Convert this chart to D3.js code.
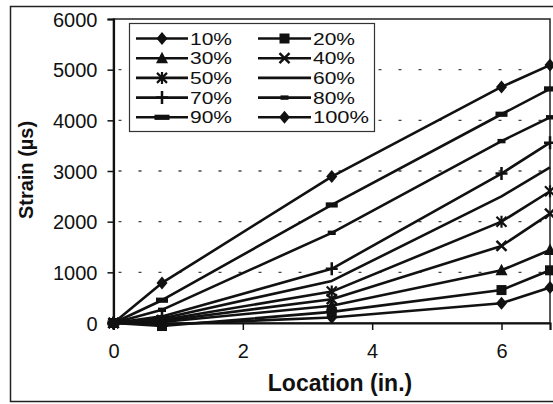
<!DOCTYPE html>
<html>
<head>
<meta charset="utf-8">
<script src="https://cdn.jsdelivr.net/npm/d3@7"></script>
<style>
  html, body { margin: 0; padding: 0; background: #fff; }
  svg { display: block; font-family: "Liberation Sans", Arial, sans-serif; }
</style>
</head>
<body>
<svg id="chart" width="553" height="404"></svg>
<script>
// ---- data ----
const locations = [0, 0.75, 3.375, 6, 6.75];
const seriesNames = ["10%", "20%", "30%", "40%", "50%", "60%", "70%", "80%", "90%", "100%"];
const strain10  = [0, -30, 110, 390, 700];
const strain20  = [0, -60, 220, 650, 1040];
const strain30  = [0, 20, 340, 1040, 1440];
const strain40  = [0, 40, 470, 1520, 2160];
const strain50  = [0, 60, 620, 2000, 2600];
const strain60  = [0, 90, 830, 2500, 3070];
const strain70  = [0, 130, 1070, 2950, 3560];
const strain80  = [0, 260, 1780, 3590, 4060];
const strain90  = [0, 450, 2330, 4120, 4620];
const strain100 = [0, 790, 2890, 4660, 5090];
const seriesValues = [strain10, strain20, strain30, strain40, strain50,
                      strain60, strain70, strain80, strain90, strain100];
const markerTypes = ["diamond", "square", "triangle", "x", "star", "none", "plus", "smalldash", "dash", "diamond"];
const xTicks = [0, 2, 4, 6];
const yTicks = [0, 1000, 2000, 3000, 4000, 5000, 6000];
const xTitle = "Location (in.)";
const yTitle = "Strain (µs)";

// ---- layout ----
const svg = d3.select("#chart");
const plot = { left: 113.5, right: 550, top: 19, bottom: 323 };
const x = d3.scaleLinear().domain([0, 6.75]).range([plot.left, plot.right]);
const y = d3.scaleLinear().domain([0, 6000]).range([plot.bottom, plot.top]);

// outer frame
svg.append("rect").attr("x", 10.5).attr("y", 6.5).attr("width", 560).attr("height", 395)
  .attr("fill", "none").attr("stroke", "#222").attr("stroke-width", 1.5);

// plot area border
svg.append("rect").attr("x", plot.left).attr("y", plot.top)
  .attr("width", plot.right - plot.left).attr("height", plot.bottom - plot.top)
  .attr("fill", "none").attr("stroke", "#222").attr("stroke-width", 1.5);

// gridlines
svg.append("g").selectAll("line").data(yTicks.filter(d => d > 0 && d < 6000)).join("line")
  .attr("x1", plot.left).attr("x2", plot.right)
  .attr("y1", d => y(d)).attr("y2", d => y(d))
  .attr("stroke", "#444").attr("stroke-width", 1.3).attr("stroke-dasharray", "3,17")
  .attr("stroke-dashoffset", -5);

// axes
const yAxis = svg.append("g").attr("transform", `translate(${plot.left},0)`)
  .call(d3.axisLeft(y).tickValues(yTicks).tickSize(6).tickPadding(10).tickFormat(d3.format("d")));
const xAxis = svg.append("g").attr("transform", `translate(0,${plot.bottom})`)
  .call(d3.axisBottom(x).tickValues(xTicks).tickSize(7).tickPadding(14).tickFormat(d3.format("d")));
[yAxis, xAxis].forEach(g => {
  g.select(".domain").attr("stroke", "#111").attr("stroke-width", 2.2);
  g.selectAll(".tick line").attr("stroke", "#111").attr("stroke-width", 1.5);
  g.selectAll(".tick text").attr("fill", "#111").attr("font-size", 20)
    .attr("font-family", "Liberation Sans, Arial, sans-serif");
});
yAxis.selectAll(".tick text").attr("dy", "0.36em");

// axis titles
svg.append("text").attr("x", 340).attr("y", 391).attr("text-anchor", "middle")
  .attr("font-size", 23).attr("font-weight", "bold").attr("fill", "#111").text(xTitle);
svg.append("text").attr("transform", "translate(33,170) rotate(-90)").attr("text-anchor", "middle")
  .attr("font-size", 20).attr("font-weight", "bold").attr("fill", "#111").text(yTitle);

// marker drawing
function drawMarker(g, type, cx, cy, legend) {
  const k = g.append("g").attr("transform", `translate(${cx},${cy})`);
  switch (type) {
    case "diamond":
      k.append("path").attr("d", "M0,-6.5L5.5,0L0,6.5L-5.5,0Z").attr("fill", "#111"); break;
    case "square":
      k.append("rect").attr("x", -5).attr("y", -5).attr("width", 10).attr("height", 10).attr("fill", "#111"); break;
    case "triangle":
      k.append("path").attr("d", "M0,-6.5L6,5L-6,5Z").attr("fill", "#111"); break;
    case "x":
      k.append("path").attr("d", "M-5,-5L5,5M-5,5L5,-5").attr("stroke", "#111").attr("stroke-width", 2.5); break;
    case "star":
      k.append("path").attr("d", "M-5,-5L5,5M-5,5L5,-5M0,-6L0,6").attr("stroke", "#111").attr("stroke-width", 2.2); break;
    case "plus":
      k.append("path").attr("d", "M-6,0L6,0M0,-6.5L0,6.5").attr("stroke", "#111").attr("stroke-width", 2.5); break;
    case "smalldash":
      k.append("rect").attr("x", -4).attr("y", -2.2).attr("width", 8).attr("height", 4.4).attr("fill", "#111"); break;
    case "dash":
      k.append("rect").attr("x", legend ? -7.5 : -6).attr("y", -2.6).attr("width", legend ? 15 : 12).attr("height", 5.2).attr("fill", "#111"); break;
    default: break;
  }
}

// series lines and markers
const line = d3.line().x((d, i) => x(locations[i])).y(d => y(d));
const linesG = svg.append("g");
const markersG = svg.append("g");
seriesValues.forEach((vals, si) => {
  linesG.append("path").attr("d", line(vals)).attr("fill", "none")
    .attr("stroke", "#111").attr("stroke-width", 2.6).attr("stroke-linejoin", "round");
  vals.forEach((v, i) => drawMarker(markersG, markerTypes[si], x(locations[i]), y(v), false));
});

// legend
const legend = svg.append("g");
legend.append("rect").attr("x", 129.5).attr("y", 23.5).attr("width", 245).attr("height", 108)
  .attr("fill", "#fff").attr("stroke", "#333").attr("stroke-width", 1.2);
const colX = [{ x1: 136, x2: 188, tx: 190 }, { x1: 258, x2: 311, tx: 313 }];
seriesNames.forEach((name, si) => {
  const col = si % 2, row = Math.floor(si / 2);
  const cy = 38.5 + row * 19.7;
  const c = colX[col];
  legend.append("line").attr("x1", c.x1).attr("x2", c.x2).attr("y1", cy).attr("y2", cy)
    .attr("stroke", "#111").attr("stroke-width", 2.6);
  drawMarker(legend, markerTypes[si], (c.x1 + c.x2) / 2, cy, true);
  legend.append("text").attr("x", c.tx).attr("y", cy).attr("dy", "0.36em")
    .attr("font-size", 17).attr("textLength", name.length === 4 ? 56 : 42)
    .attr("lengthAdjust", "spacingAndGlyphs").attr("fill", "#111").text(name);
});
</script>
</body>
</html>
